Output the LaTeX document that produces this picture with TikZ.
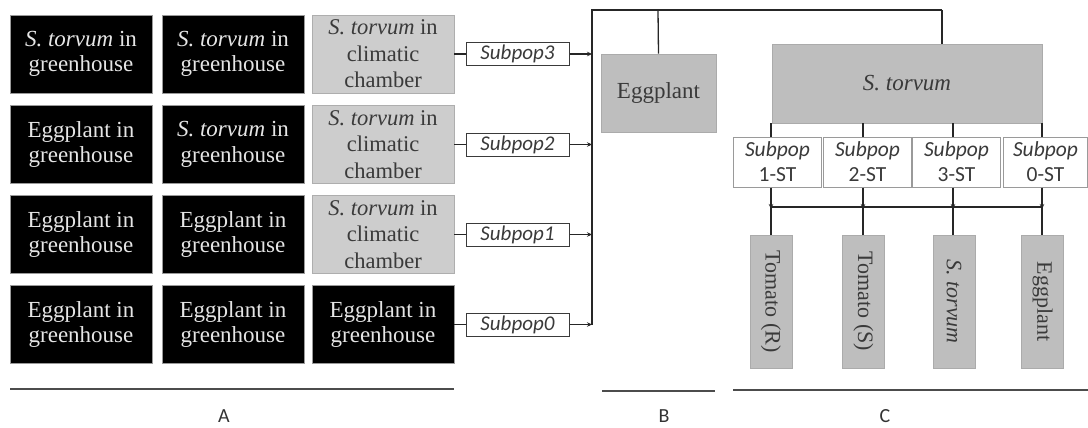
\documentclass[tikz,border=0pt]{standalone}
\usepackage{fontspec}
\setmainfont{Liberation Serif}
\newfontfamily\calfont{Carlito}
\usetikzlibrary{arrows.meta}
\definecolor{lgray}{HTML}{CDCDCD}
\definecolor{mgray}{HTML}{BEBEBE}
\definecolor{tgray}{HTML}{3A3A3A}
\definecolor{edgegray}{HTML}{9A9A9A}
\tikzset{
 blk/.style={draw=edgegray, line width=0.8pt, fill=black, text=white!90!black, minimum width=142pt, minimum height=78pt, align=center, inner sep=0pt, font=\fontsize{23}{25.5}\selectfont},
 chm/.style={blk, fill=lgray, draw=lgray!85!black, text=tgray, font=\fontsize{22.5}{26.5}\selectfont},
 sp/.style={draw=tgray, fill=white, line width=1pt, minimum width=103pt, minimum height=23pt, inner sep=0pt, font=\calfont\itshape\fontsize{21}{21}\selectfont, text=tgray},
 gbox/.style={fill=mgray, draw=mgray!90!black, line width=0.6pt, inner sep=0pt, text=tgray, font=\fontsize{23}{26}\selectfont},
 stbox/.style={draw=edgegray, fill=white, line width=1pt, minimum width=88pt, minimum height=50pt, inner sep=0pt, align=center, text=tgray, font=\calfont\fontsize{21.5}{25}\selectfont},
 vbox/.style={gbox, rotate=-90, minimum width=133pt, minimum height=42pt, font=\fontsize{22}{22}\selectfont},
 conn/.style={line width=1.3pt, draw=black!85},
 arr/.style={conn, -{Stealth[length=5pt,width=4.5pt]}},
 bar/.style={line width=1.8pt, draw=black!70},
 lab/.style={font=\calfont\fontsize{20}{20}\selectfont, text=black!80, inner sep=0pt}
}
\begin{document}
\begin{tikzpicture}[x=1pt,y=-1pt]
\useasboundingbox (0,0) rectangle (1088,428);
% Panel A
\node[blk] (a11) at (81,54) {\textit{S. torvum} in\\greenhouse};
\node[blk] (a12) at (233,54) {\textit{S. torvum} in\\greenhouse};
\node[chm] (a13) at (383,54) {\textit{S. torvum} in\\climatic\\chamber};
\node[blk] (a21) at (81,144.5) {Eggplant in\\greenhouse};
\node[blk] (a22) at (233,144.5) {\textit{S. torvum} in\\greenhouse};
\node[chm] (a23) at (383,144.5) {\textit{S. torvum} in\\climatic\\chamber};
\node[blk] (a31) at (81,234.5) {Eggplant in\\greenhouse};
\node[blk] (a32) at (233,234.5) {Eggplant in\\greenhouse};
\node[chm] (a33) at (383,234.5) {\textit{S. torvum} in\\climatic\\chamber};
\node[blk] (a41) at (81,324.5) {Eggplant in\\greenhouse};
\node[blk] (a42) at (233,324.5) {Eggplant in\\greenhouse};
\node[blk] (a43) at (383,324.5) {Eggplant in\\greenhouse};
% Subpop labels
\node[sp] (s3) at (517.5,54) {Subpop3};
\node[sp] (s2) at (517.5,144.5) {Subpop2};
\node[sp] (s1) at (517.5,234.5) {Subpop1};
\node[sp] (s0) at (517.5,324.5) {Subpop0};
\coordinate (bus3) at (592,54);
\coordinate (bus2) at (592,144.5);
\coordinate (bus1) at (592,234.5);
\coordinate (bus0) at (592,324.5);
\coordinate (bustop) at (592,10);
\coordinate (tj) at (942,10);
\coordinate (tb) at (658,10);
\draw[conn] (a13.east) -- (s3.west);
\draw[conn] (a23.east) -- (s2.west);
\draw[conn] (a33.east) -- (s1.west);
\draw[conn] (a43.east) -- (s0.west);
\foreach \i in {3,2,1,0}{\draw[arr] (s\i.east) -- (bus\i);}
\draw[conn] (bus0) -- (bustop) -- (tj);
% Panel B
\node[gbox, minimum width=115pt, minimum height=78pt] (egg) at (658.5,93) {Eggplant};
\draw[conn] (tb) -- (egg.north);
% Panel C
\node[gbox, minimum width=270pt, minimum height=79pt] (stor) at (907,83.5) {\textit{S. torvum}};
\draw[conn] (tj) -- (tj |- stor.north);
\node[stbox] (st1) at (777.5,162) {\textit{Subpop}\\1-ST};
\node[stbox] (st2) at (867.5,162) {\textit{Subpop}\\2-ST};
\node[stbox] (st3) at (956.5,162) {\textit{Subpop}\\3-ST};
\node[stbox, minimum width=84pt] (st4) at (1045.5,162) {\textit{Subpop}\\0-ST};
\coordinate (c1) at (771,207);
\coordinate (c2) at (863,207);
\coordinate (c3) at (953,207);
\coordinate (c4) at (1042,207);
\node[vbox] (t1) at (771,301.5) {Tomato (R)};
\node[vbox] (t2) at (863.5,301.5) {Tomato (S)};
\node[vbox] (t3) at (954,301.5) {\textit{S. torvum}};
\node[vbox] (t4) at (1042.5,301.5) {Eggplant};
\foreach \i in {1,2,3,4}{
  \draw[conn] (c\i |- stor.south) -- (c\i |- st\i.north);
  \draw[arr] (c\i |- st\i.south) -- ([yshift=-2pt]c\i);
  \draw[conn] (c\i) -- (c\i |- t\i.west);
}
\draw[conn] (c1) -- (c4);
% Bars and labels
\coordinate (la0) at (10,389); \coordinate (la1) at (454,389);
\coordinate (lb0) at (602,391); \coordinate (lb1) at (715,391);
\coordinate (lc0) at (733,390); \coordinate (lc1) at (1088,390);
\draw[bar] (la0) -- (la1);
\draw[bar] (lb0) -- (lb1);
\draw[bar] (lc0) -- (lc1);
\node[lab] (A) at (224,416) {A};
\node[lab] (B) at (664,416) {B};
\node[lab] (C) at (885,416) {C};
\end{tikzpicture}
\end{document}
